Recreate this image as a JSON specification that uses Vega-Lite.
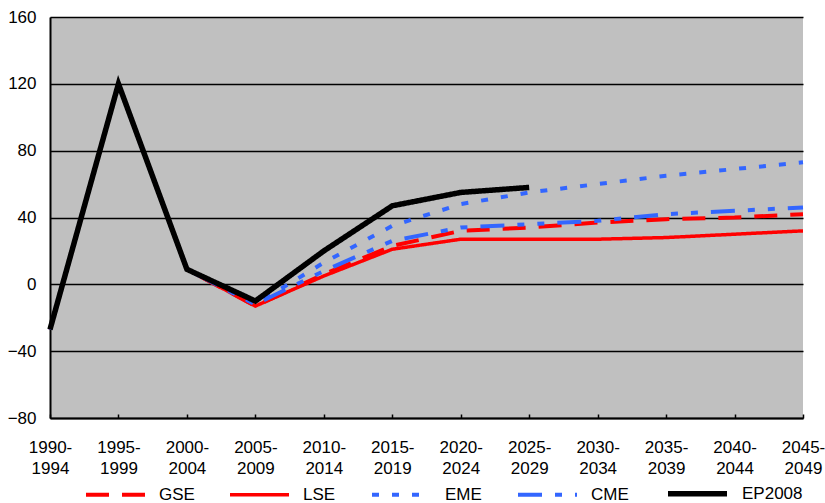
{
  "$schema": "https://vega.github.io/schema/vega-lite/v6.json",
  "width": 753,
  "height": 401,
  "autosize": {"type": "none"},
  "padding": {"left": 50, "top": 17, "right": 22, "bottom": 85},
  "background": "white",
  "config": {
    "font": "Liberation Sans",
    "view": {"fill": "#C0C0C0", "stroke": null}
  },
  "data": {
    "values": [
      {"period": "1990-1994", "series": "GSE", "value": -27},
      {"period": "1995-1999", "series": "GSE", "value": 120},
      {"period": "2000-2004", "series": "GSE", "value": 9},
      {"period": "2005-2009", "series": "GSE", "value": -13},
      {"period": "2010-2014", "series": "GSE", "value": 6},
      {"period": "2015-2019", "series": "GSE", "value": 23},
      {"period": "2020-2024", "series": "GSE", "value": 32},
      {"period": "2025-2029", "series": "GSE", "value": 34},
      {"period": "2030-2034", "series": "GSE", "value": 37},
      {"period": "2035-2039", "series": "GSE", "value": 39},
      {"period": "2040-2044", "series": "GSE", "value": 40},
      {"period": "2045-2049", "series": "GSE", "value": 42},
      {"period": "1990-1994", "series": "LSE", "value": -27},
      {"period": "1995-1999", "series": "LSE", "value": 120},
      {"period": "2000-2004", "series": "LSE", "value": 9},
      {"period": "2005-2009", "series": "LSE", "value": -13},
      {"period": "2010-2014", "series": "LSE", "value": 5},
      {"period": "2015-2019", "series": "LSE", "value": 21},
      {"period": "2020-2024", "series": "LSE", "value": 27},
      {"period": "2025-2029", "series": "LSE", "value": 27},
      {"period": "2030-2034", "series": "LSE", "value": 27},
      {"period": "2035-2039", "series": "LSE", "value": 28},
      {"period": "2040-2044", "series": "LSE", "value": 30},
      {"period": "2045-2049", "series": "LSE", "value": 32},
      {"period": "1990-1994", "series": "EME", "value": -27},
      {"period": "1995-1999", "series": "EME", "value": 120},
      {"period": "2000-2004", "series": "EME", "value": 9},
      {"period": "2005-2009", "series": "EME", "value": -12},
      {"period": "2010-2014", "series": "EME", "value": 13},
      {"period": "2015-2019", "series": "EME", "value": 35},
      {"period": "2020-2024", "series": "EME", "value": 48},
      {"period": "2025-2029", "series": "EME", "value": 55},
      {"period": "2030-2034", "series": "EME", "value": 60},
      {"period": "2035-2039", "series": "EME", "value": 65},
      {"period": "2040-2044", "series": "EME", "value": 69},
      {"period": "2045-2049", "series": "EME", "value": 73},
      {"period": "1990-1994", "series": "CME", "value": -27},
      {"period": "1995-1999", "series": "CME", "value": 120},
      {"period": "2000-2004", "series": "CME", "value": 9},
      {"period": "2005-2009", "series": "CME", "value": -12},
      {"period": "2010-2014", "series": "CME", "value": 8},
      {"period": "2015-2019", "series": "CME", "value": 26},
      {"period": "2020-2024", "series": "CME", "value": 34},
      {"period": "2025-2029", "series": "CME", "value": 36},
      {"period": "2030-2034", "series": "CME", "value": 38},
      {"period": "2035-2039", "series": "CME", "value": 42},
      {"period": "2040-2044", "series": "CME", "value": 44},
      {"period": "2045-2049", "series": "CME", "value": 46},
      {"period": "1990-1994", "series": "EP2008", "value": -27},
      {"period": "1995-1999", "series": "EP2008", "value": 120},
      {"period": "2000-2004", "series": "EP2008", "value": 9},
      {"period": "2005-2009", "series": "EP2008", "value": -10},
      {"period": "2010-2014", "series": "EP2008", "value": 20},
      {"period": "2015-2019", "series": "EP2008", "value": 47},
      {"period": "2020-2024", "series": "EP2008", "value": 55},
      {"period": "2025-2029", "series": "EP2008", "value": 58}
    ]
  },
  "encoding": {
    "x": {
      "field": "period",
      "type": "ordinal",
      "scale": {"type": "point", "padding": 0},
      "axis": {
        "title": null,
        "labelAngle": 0,
        "labelExpr": "[slice(datum.label, 0, 5), slice(datum.label, 5)]",
        "labelFontSize": 17,
        "labelColor": "black",
        "labelLineHeight": 21,
        "labelPadding": 25,
        "domainColor": "black",
        "domainWidth": 2,
        "ticks": true,
        "tickSize": -4,
        "tickColor": "black",
        "tickWidth": 1.5,
        "grid": false
      }
    },
    "y": {
      "field": "value",
      "type": "quantitative",
      "scale": {"domain": [-80, 160], "nice": false, "zero": false},
      "axis": {
        "title": null,
        "values": [-80, -40, 0, 40, 80, 120, 160],
        "labelFontSize": 17,
        "labelColor": "black",
        "labelPadding": 14,
        "ticks": false,
        "domainColor": "black",
        "domainWidth": 2,
        "grid": true,
        "gridColor": "black",
        "gridWidth": 1.3,
        "gridOpacity": 1
      }
    },
    "color": {
      "field": "series",
      "type": "nominal",
      "scale": {
        "domain": ["GSE", "LSE", "EME", "CME", "EP2008"],
        "range": ["#FF0000", "#FF0000", "#3366FF", "#3366FF", "#000000"]
      },
      "legend": {
        "title": null,
        "orient": "none",
        "direction": "horizontal",
        "legendX": 34,
        "legendY": 444,
        "symbolType": "stroke",
        "symbolSize": 3481,
        "labelFontSize": 17,
        "labelColor": "black",
        "labelOffset": 12,
        "columnPadding": 28
      }
    },
    "strokeDash": {
      "field": "series",
      "type": "nominal",
      "scale": {
        "domain": ["GSE", "LSE", "EME", "CME", "EP2008"],
        "range": [[23, 13], [1, 0], [7, 13], [24, 13, 7, 13, 7, 13], [1, 0]]
      }
    },
    "strokeWidth": {
      "field": "series",
      "type": "nominal",
      "scale": {
        "type": "ordinal",
        "domain": ["GSE", "LSE", "EME", "CME", "EP2008"],
        "range": [4, 3.5, 4, 4, 5.5]
      }
    }
  },
  "layer": [
    {
      "transform": [{"filter": "datum.series !== 'EP2008'"}],
      "mark": {"type": "line", "clip": false}
    },
    {
      "transform": [{"filter": "datum.series === 'EP2008'"}],
      "mark": {"type": "line", "clip": false}
    }
  ]
}
